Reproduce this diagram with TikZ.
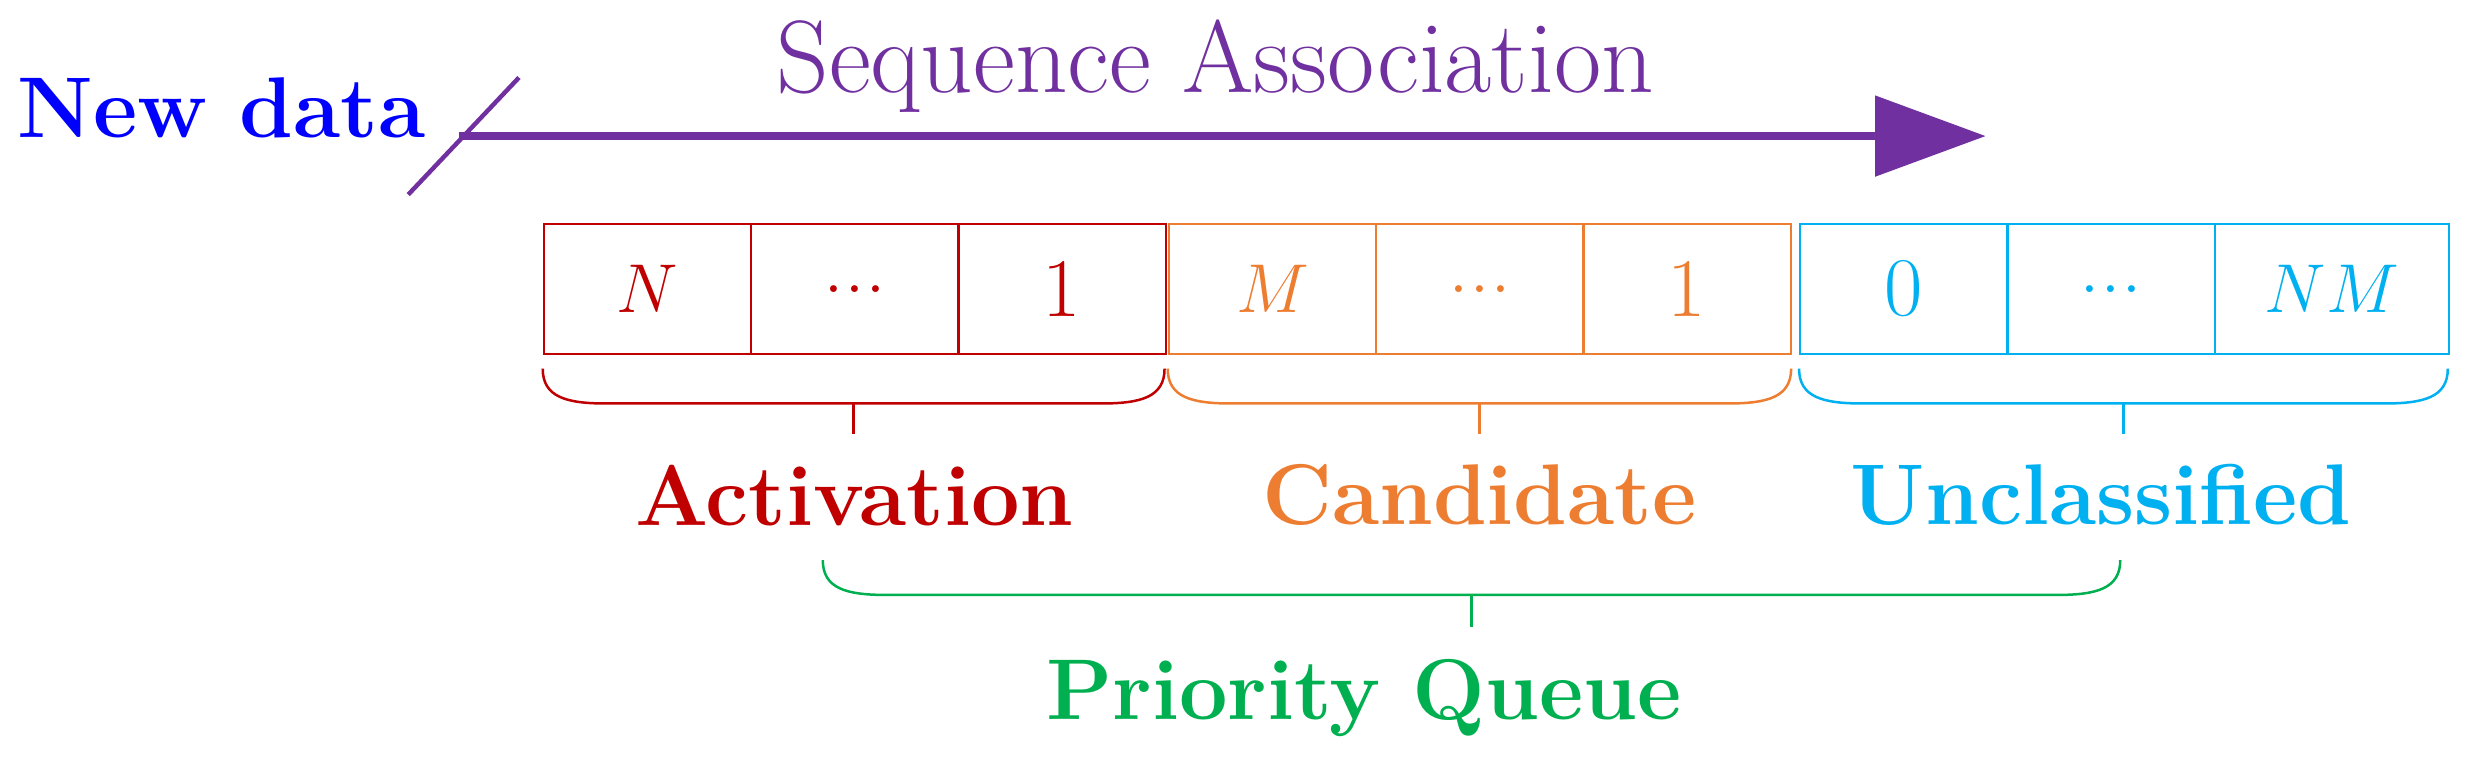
\documentclass[tikz,border=0pt]{standalone}
\usetikzlibrary{arrows.meta}
\definecolor{cred}{HTML}{C00000}
\definecolor{corg}{HTML}{ED7D31}
\definecolor{ccyan}{HTML}{00B0F0}
\definecolor{cgreen}{HTML}{00B050}
\definecolor{cblue}{HTML}{0000FF}
\definecolor{cpurp}{HTML}{7030A0}
\begin{document}
\begin{tikzpicture}[x=0.02cm,y=-0.02cm,
  big/.style={font=\fontsize{37}{44}\selectfont},
  lab/.style={font=\fontsize{31}{38}\selectfont\bfseries},
  cell/.style={draw=#1,text=#1,line width=0.8pt,minimum width=131*0.02cm,minimum height=82*0.02cm,inner sep=0pt,anchor=north west,font=\fontsize{30}{36}\selectfont},
  brc/.style={line width=0.9pt}]
\useasboundingbox (0,0) rectangle (1568,493);
\node[lab,text=cblue] (nd) at (140,68) {New data};
\coordinate (s1) at (258,123);
\coordinate (s2) at (328,49);
\draw[cpurp,line width=1.6pt] (s1) -- (s2);
\coordinate (a0) at (290,86);
\coordinate (a1) at (1255,86);
\draw[cpurp,line width=3pt,-{Triangle[length=70*0.02cm,width=50*0.02cm]}] (a0) -- (a1);
\node[big,text=cpurp] (sa) at (768,42) {Sequence Association};
% cells
\node[cell=cred] (r1) at (343,141) {$N$};
\node[cell=cred] (r2) at (474,141) {...};
\node[cell=cred] (r3) at (605,141) {1};
\node[cell=corg] (o1) at (738,141) {$M$};
\node[cell=corg] (o2) at (869,141) {...};
\node[cell=corg] (o3) at (1000,141) {1};
\node[cell=ccyan] (c1) at (1137,141) {0};
\node[cell=ccyan] (c2) at (1268,141) {...};
\node[cell=ccyan,minimum width=148*0.02cm] (c3) at (1399,141) {$NM$};
% braces
\newcommand{\mybrace}[6]{%
  \draw[brc,#1] (#2,#4) .. controls (#2,#4+18) and (#2+15,#5) .. (#2+40,#5) -- (#3-40,#5) .. controls (#3-15,#5) and (#3,#4+18) .. (#3,#4);
  \draw[brc,#1] ({(#2+#3)/2},#5) -- ({(#2+#3)/2},#6);}
\mybrace{cred}{343}{736}{233}{255}{274}
\mybrace{corg}{738}{1132}{233}{255}{274}
\mybrace{ccyan}{1137}{1547}{233}{255}{274}
\mybrace{cgreen}{520}{1340}{354}{376}{396}
\node[lab,text=cred] (la) at (540,313) {Activation};
\node[lab,text=corg] (lc) at (935,313) {Candidate};
\node[lab,text=ccyan] (lu) at (1328,313) {Unclassified};
\node[lab,text=cgreen] (lp) at (862,441) {Priority Queue};
\end{tikzpicture}
\end{document}
